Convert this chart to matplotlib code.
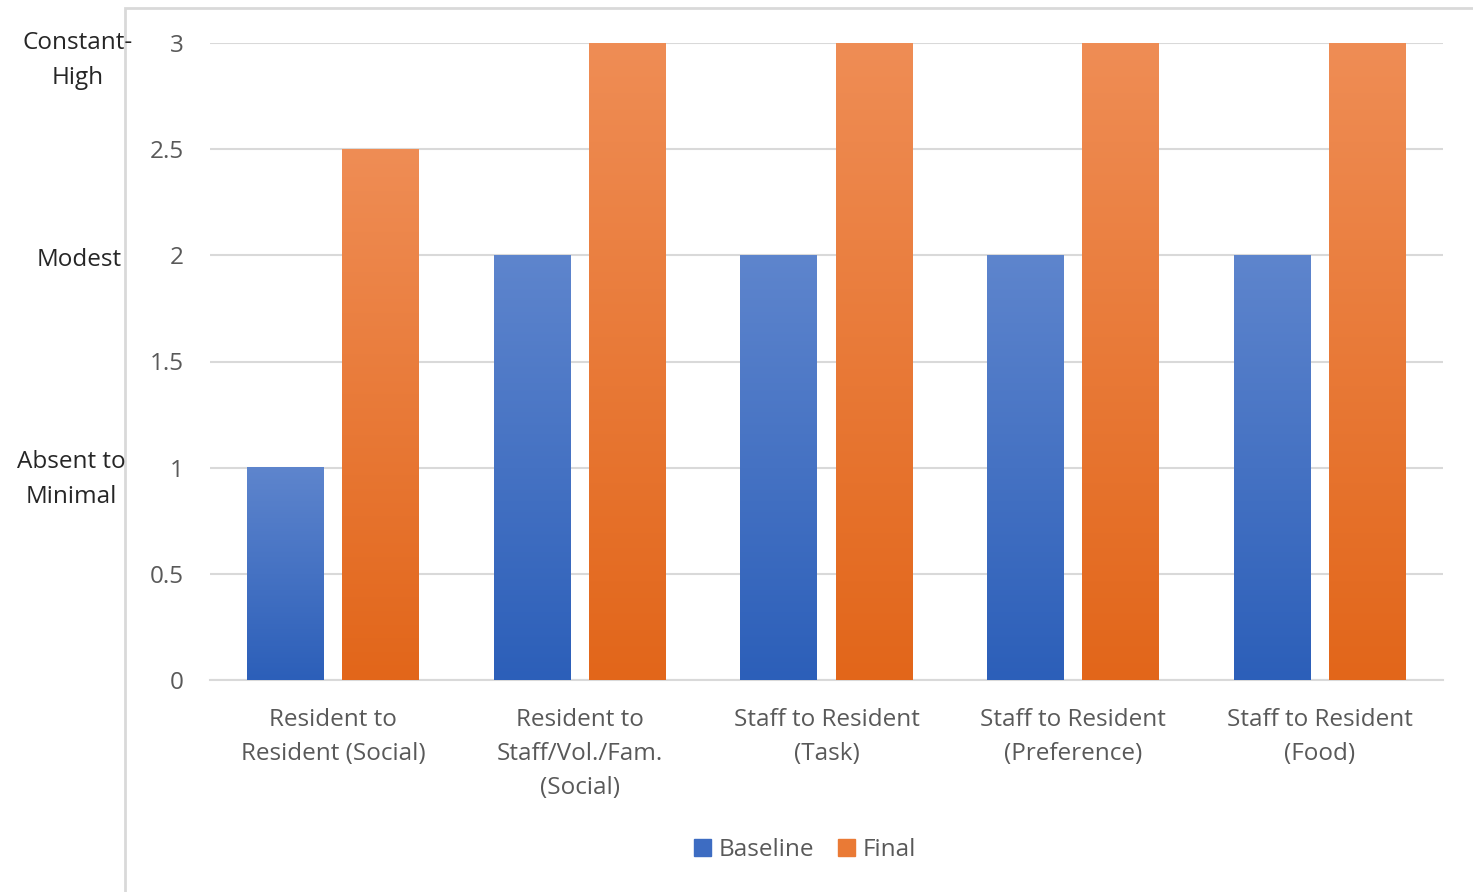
import numpy as np
import matplotlib
matplotlib.use("Agg")
import matplotlib.pyplot as plt
import matplotlib.transforms as mtransforms
from matplotlib.patches import Rectangle
from matplotlib.colors import LinearSegmentedColormap

categories = [
    "Resident to\nResident (Social)",
    "Resident to\nStaff/Vol./Fam.\n(Social)",
    "Staff to Resident\n(Task)",
    "Staff to Resident\n(Preference)",
    "Staff to Resident\n(Food)",
]
baseline = [1, 2, 2, 2, 2]
final = [2.5, 3, 3, 3, 3]
yticks = [0, 0.5, 1, 1.5, 2, 2.5, 3]
ytick_labels = ["0", "0.5", "1", "1.5", "2", "2.5", "3"]
level_labels = [(2.918, 78, "Constant-\nHigh"), (1.98, 79, "Modest"),
                (0.943, 71, "Absent to\nMinimal")]

FS = 17.5
FONT = "Open Sans"
W, H = 1473, 892
fig = plt.figure(figsize=(W / 100, H / 100), dpi=100)
fig.patch.set_facecolor("white")

def px(x0, y0, x1, y1):
    return [x0 / W, 1 - y1 / H, (x1 - x0) / W, (y1 - y0) / H]

ax = fig.add_axes(px(210, 43, 1443, 680))

# chart frame
fig.patches.append(Rectangle((125 / W, -0.05), 1.2, 1 - 8 / H + 0.05,
                             transform=fig.transFigure, fill=False,
                             edgecolor="#d9d9d9", linewidth=2, zorder=0))

blue_cmap = LinearSegmentedColormap.from_list("b", ["#2c5fb9", "#5e85cd"])
orange_cmap = LinearSegmentedColormap.from_list("o", ["#e2661a", "#ef8d55"])

x = np.arange(len(categories))
bw = 0.312
off = 0.193
grad = np.linspace(0, 1, 256).reshape(-1, 1)

def gradient_bars(xs, vals, cmap, label):
    bars = ax.bar(xs, vals, width=bw, color=cmap(0.5), label=label, zorder=2)
    for b in bars:
        b.set_alpha(0)
        x0, w, h = b.get_x(), b.get_width(), b.get_height()
        ax.imshow(grad, extent=(x0, x0 + w, 0, h), origin="lower",
                  cmap=cmap, aspect="auto", zorder=3, vmin=0, vmax=1)
    return bars

gradient_bars(x - off, baseline, blue_cmap, "Baseline")
gradient_bars(x + off, final, orange_cmap, "Final")
ax.set_xlim(-0.5, len(categories) - 0.5)
ax.set_ylim(0, 3)
ax.set_aspect("auto")

for s in ["top", "right", "left"]:
    ax.spines[s].set_visible(False)
ax.spines["bottom"].set_color("#d9d9d9")
ax.spines["bottom"].set_linewidth(1.5)
ax.set_yticks(yticks)
ax.set_yticklabels(ytick_labels)
ax.yaxis.grid(True, color="#d9d9d9", linewidth=1.5, zorder=0)
ax.set_axisbelow(True)
ax.set_xticks(x)
ax.set_xticklabels(categories, linespacing=1.55)
ax.tick_params(axis="both", length=0, colors="#595959", labelsize=FS)
ax.tick_params(axis="y", pad=19)
ax.tick_params(axis="x", pad=20)
for t in ax.get_xticklabels() + ax.get_yticklabels():
    t.set_fontfamily(FONT)

# level names beside the value axis
blend = mtransforms.blended_transform_factory(fig.transFigure, ax.transData)
for v, xc, txt in level_labels:
    fig.text(xc / W, v, txt, transform=blend, ha="center", va="center",
             fontsize=FS, color="#262626", family=FONT, linespacing=1.62)

leg = fig.legend(loc="center", bbox_to_anchor=(805 / W, 1 - 850 / H), ncol=2,
                 frameon=False, handlelength=0.7, handleheight=0.7,
                 handletextpad=0.3, columnspacing=1.0,
                 prop={"family": FONT, "size": FS})
for t in leg.get_texts():
    t.set_color("#595959")
for h, c in zip(leg.legend_handles, ["#3d6cc2", "#ea7a35"]):
    h.set_alpha(1)
    h.set_color(c)

fig.savefig("out.png", dpi=100, facecolor="white")
